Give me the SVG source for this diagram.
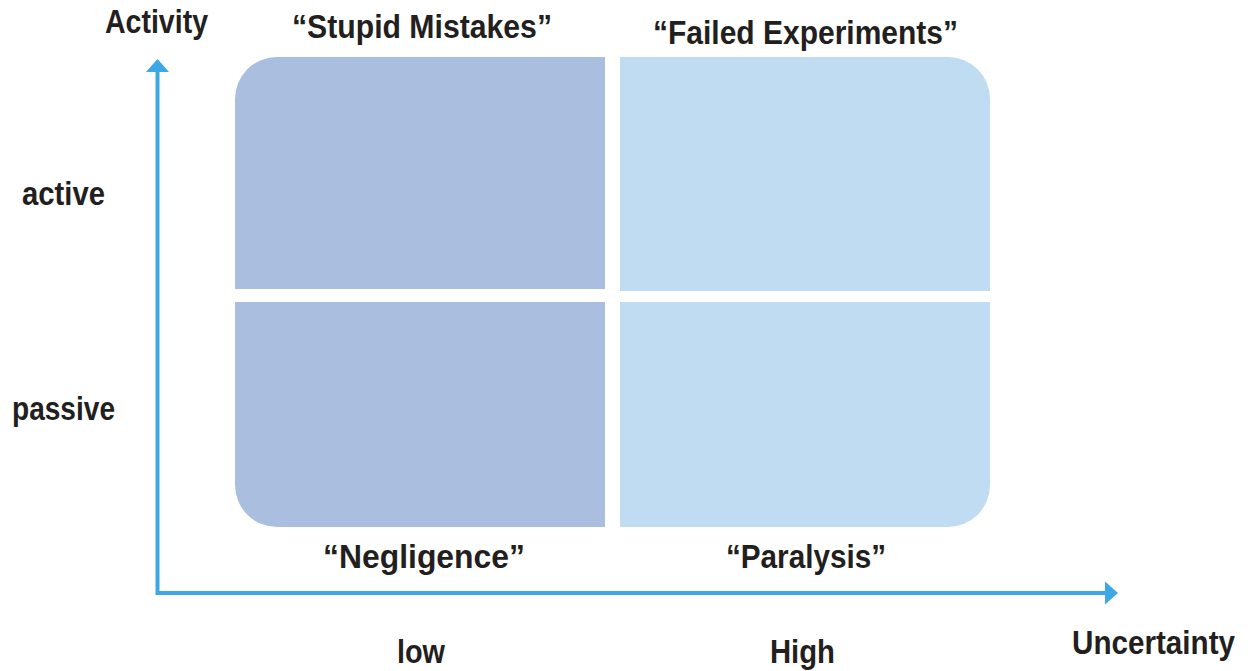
<svg xmlns="http://www.w3.org/2000/svg" width="1252" height="671" viewBox="0 0 1252 671">
<style>
.t{font-family:"Liberation Sans",Arial,sans-serif;font-weight:bold;font-size:33px;fill:#231F20}
.low{fill:#AABFE0}
.high{fill:#BFDCF2}
.ax{stroke:#3DA8E4;stroke-width:4;fill:none}
.ah{fill:#3DA8E4}
</style>
<rect width="1252" height="671" fill="#FFFFFF"/>
<g id="quad-stupid-mistakes">
<path class="low" d="M235,99 A42,42 0 0 1 277,57 L605,57 L605,289 L235,289 Z"/>
</g>
<g id="quad-failed-experiments">
<path class="high" d="M620,57 L948,57 A42,42 0 0 1 990,99 L990,291 L620,291 Z"/>
</g>
<g id="quad-negligence">
<path class="low" d="M235,302 L605,302 L605,527 L277,527 A42,42 0 0 1 235,485 Z"/>
</g>
<g id="quad-paralysis">
<path class="high" d="M620,302 L990,302 L990,485 A42,42 0 0 1 948,527 L620,527 Z"/>
</g>
<g id="connectors">
<path class="ax" d="M157.5,71 L157.5,593 L1106,593"/>
<polygon class="ah" points="157.5,59 146,72 169,72"/>
<polygon class="ah" points="1118,593 1105,581.5 1105,604.5"/>
</g>
<g id="labels">
<text class="t" x="105" y="33" textLength="103" lengthAdjust="spacingAndGlyphs">Activity</text>
<text class="t" x="292" y="38" textLength="260" lengthAdjust="spacingAndGlyphs">“Stupid Mistakes”</text>
<text class="t" x="653" y="44" textLength="305" lengthAdjust="spacingAndGlyphs">“Failed Experiments”</text>
<text class="t" x="22" y="205" textLength="83" lengthAdjust="spacingAndGlyphs">active</text>
<text class="t" x="12" y="420" textLength="103" lengthAdjust="spacingAndGlyphs">passive</text>
<text class="t" x="323" y="568" textLength="202" lengthAdjust="spacingAndGlyphs">“Negligence”</text>
<text class="t" x="726" y="568" textLength="160" lengthAdjust="spacingAndGlyphs">“Paralysis”</text>
<text class="t" x="397" y="663" textLength="48" lengthAdjust="spacingAndGlyphs">low</text>
<text class="t" x="770" y="663" textLength="65" lengthAdjust="spacingAndGlyphs">High</text>
<text class="t" x="1072" y="654" textLength="163" lengthAdjust="spacingAndGlyphs">Uncertainty</text>
</g>
</svg>
